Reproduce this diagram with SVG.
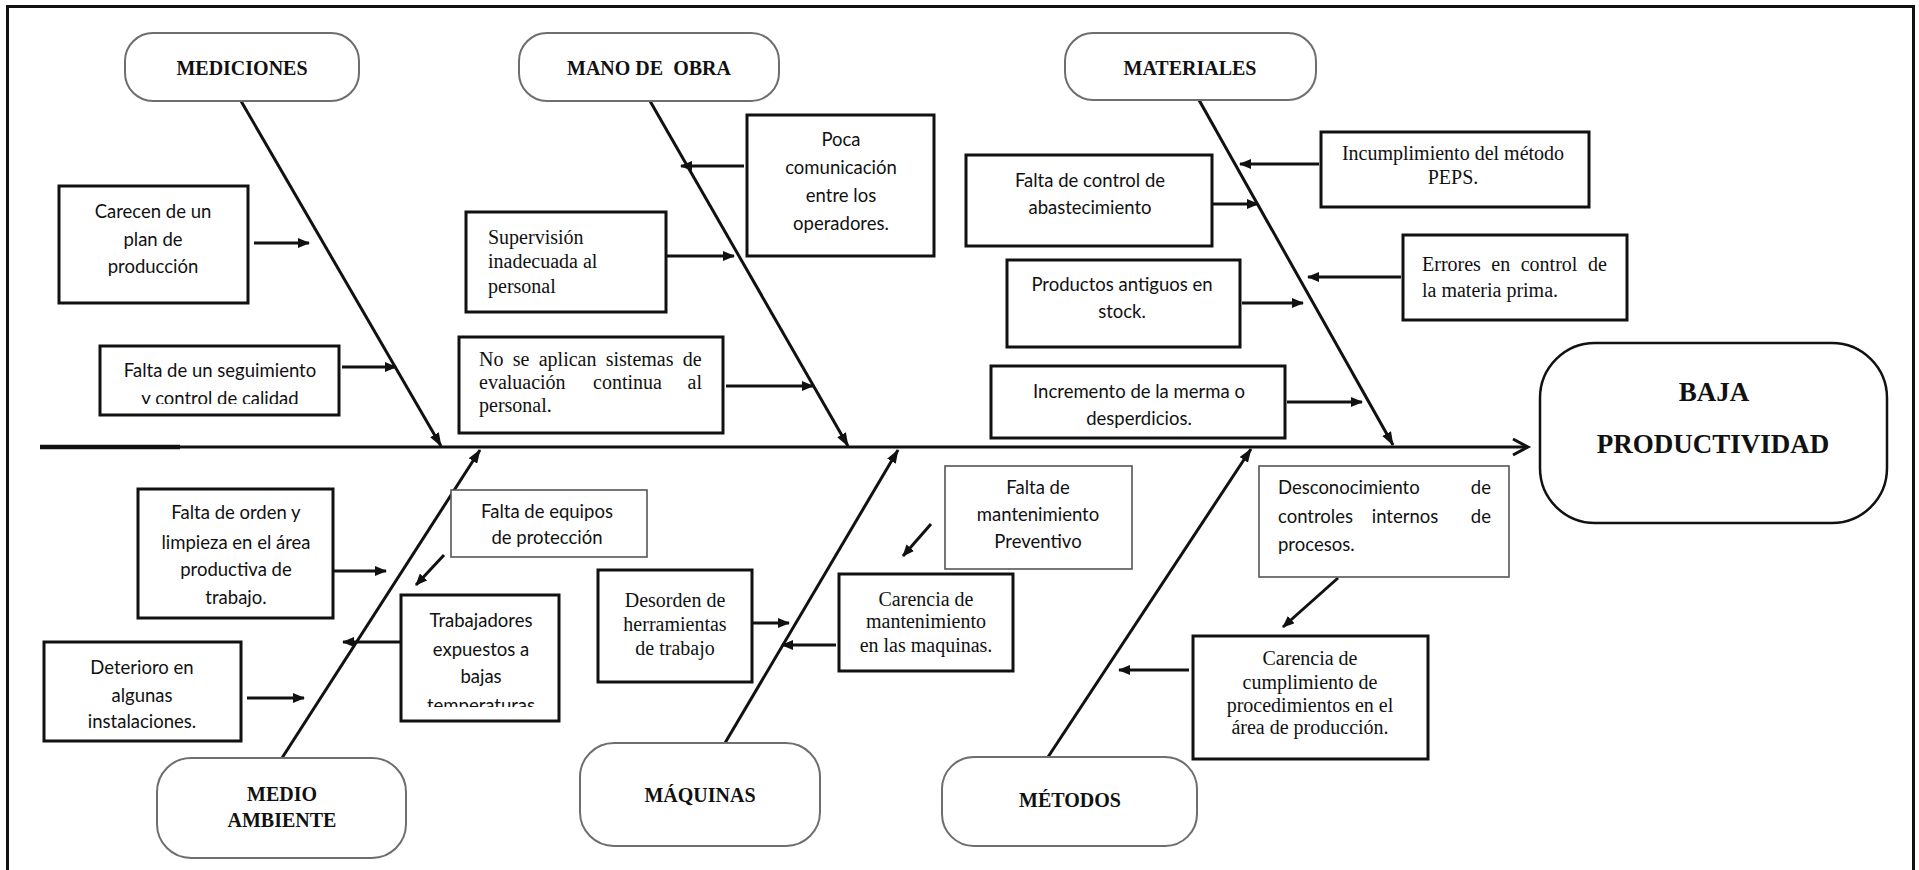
<svg xmlns="http://www.w3.org/2000/svg" width="1919" height="870" viewBox="0 0 1919 870">
  <style>
    .cat { fill: #fff; stroke: #6e6e6e; stroke-width: 2; }
    .box { fill: #fff; stroke: #111; stroke-width: 3; }
    .thin { fill: #fff; stroke: #555; stroke-width: 1.6; }
    .cap { font-family: "Liberation Serif", "Times New Roman", serif; font-weight: bold; font-size: 20px; fill: #111; text-anchor: middle; }
    .sans { font-family: Lato, "Noto Sans", sans-serif; font-size: 18.5px; fill: #111; }
    .serif { font-family: "Liberation Serif", "Times New Roman", serif; font-size: 20px; fill: #111; }
    .mid { text-anchor: middle; }
    .end { text-anchor: end; }
    .bone { stroke: #111; stroke-width: 3; fill: none; }
    .arr { stroke: #111; stroke-width: 3; fill: none; }
  </style>
  <defs>
    <marker id="head" viewBox="0 0 12 10" refX="11" refY="5" markerWidth="12" markerHeight="10" markerUnits="userSpaceOnUse" orient="auto">
      <path d="M0,0 L12,5 L0,10 z" fill="#111"/>
    </marker>
    <marker id="bonehead" viewBox="0 0 14 10" refX="13" refY="5" markerWidth="14" markerHeight="10" markerUnits="userSpaceOnUse" orient="auto">
      <path d="M0,0 L14,5 L0,10 z" fill="#111"/>
    </marker>
    <clipPath id="clipSeg"><rect x="100" y="346" width="239" height="58"/></clipPath>
    <clipPath id="clipTrab"><rect x="401" y="595" width="158" height="112"/></clipPath>
  </defs>

  <!-- frame -->
  <rect x="7.5" y="6.5" width="1906" height="880" fill="none" stroke="#111" stroke-width="3"/>

  <!-- spine, bones and arrows -->
  <g id="connectors">
    <line x1="40" y1="447" x2="1526" y2="447" stroke="#111" stroke-width="3"/>
    <line x1="40" y1="447" x2="180" y2="447" stroke="#111" stroke-width="4.5"/>
    <polyline points="1513,439 1528,447 1513,455" fill="none" stroke="#111" stroke-width="3"/>

    <line class="bone" x1="241" y1="101" x2="441" y2="446" marker-end="url(#bonehead)"/>
    <line class="bone" x1="650" y1="101" x2="848" y2="446" marker-end="url(#bonehead)"/>
    <line class="bone" x1="1199" y1="100" x2="1393" y2="445" marker-end="url(#bonehead)"/>
    <line class="bone" x1="282" y1="758" x2="480" y2="450" marker-end="url(#bonehead)"/>
    <line class="bone" x1="725" y1="743" x2="898" y2="450" marker-end="url(#bonehead)"/>
    <line class="bone" x1="1048" y1="757" x2="1251" y2="449" marker-end="url(#bonehead)"/>

    <line class="arr" x1="254" y1="243" x2="309" y2="243" marker-end="url(#head)"/>
    <line class="arr" x1="342" y1="367" x2="396" y2="367" marker-end="url(#head)"/>
    <line class="arr" x1="744" y1="166" x2="681" y2="166" marker-end="url(#head)"/>
    <line class="arr" x1="666" y1="256" x2="734" y2="256" marker-end="url(#head)"/>
    <line class="arr" x1="726" y1="386" x2="813" y2="386" marker-end="url(#head)"/>
    <line class="arr" x1="1213" y1="204" x2="1258" y2="204" marker-end="url(#head)"/>
    <line class="arr" x1="1319" y1="164" x2="1240" y2="164" marker-end="url(#head)"/>
    <line class="arr" x1="1242" y1="303" x2="1303" y2="303" marker-end="url(#head)"/>
    <line class="arr" x1="1401" y1="277" x2="1308" y2="277" marker-end="url(#head)"/>
    <line class="arr" x1="1287" y1="402" x2="1362" y2="402" marker-end="url(#head)"/>

    <line class="arr" x1="334" y1="571" x2="386" y2="571" marker-end="url(#head)"/>
    <line class="arr" x1="444" y1="555" x2="416" y2="585" marker-end="url(#head)"/>
    <line class="arr" x1="401" y1="642" x2="343" y2="642" marker-end="url(#head)"/>
    <line class="arr" x1="247" y1="698" x2="304" y2="698" marker-end="url(#head)"/>
    <line class="arr" x1="752" y1="623" x2="789" y2="623" marker-end="url(#head)"/>
    <line class="arr" x1="836" y1="645" x2="782" y2="645" marker-end="url(#head)"/>
    <line class="arr" x1="931" y1="524" x2="903" y2="556" marker-end="url(#head)"/>
    <line class="arr" x1="1189" y1="670" x2="1119" y2="670" marker-end="url(#head)"/>
    <line class="arr" x1="1338" y1="578" x2="1283" y2="627" marker-end="url(#head)"/>
  </g>

  <!-- effect -->
  <g id="baja-productividad">
    <rect x="1540" y="343" width="347" height="180" rx="55" fill="#fff" stroke="#111" stroke-width="2.5"/>
    <text class="cap" x="1714" y="401" style="font-size:27px">BAJA</text>
    <text class="cap" x="1713" y="453" style="font-size:27px">PRODUCTIVIDAD</text>
  </g>

  <!-- categories -->
  <g id="cat-mediciones">
    <rect class="cat" x="125" y="33" width="234" height="68" rx="28"/>
    <text class="cap" x="242" y="75">MEDICIONES</text>
  </g>
  <g id="cat-mano-de-obra">
    <rect class="cat" x="519" y="33" width="260" height="68" rx="28"/>
    <text class="cap" x="649" y="75" xml:space="preserve">MANO DE  OBRA</text>
  </g>
  <g id="cat-materiales">
    <rect class="cat" x="1065" y="33" width="251" height="67" rx="28"/>
    <text class="cap" x="1190" y="75">MATERIALES</text>
  </g>
  <g id="cat-medio-ambiente">
    <rect class="cat" x="157" y="758" width="249" height="100" rx="34"/>
    <text class="cap" x="282" y="801">MEDIO</text>
    <text class="cap" x="282" y="827">AMBIENTE</text>
  </g>
  <g id="cat-maquinas">
    <rect class="cat" x="580" y="743" width="240" height="103" rx="34"/>
    <text class="cap" x="700" y="802">MÁQUINAS</text>
  </g>
  <g id="cat-metodos">
    <rect class="cat" x="942" y="757" width="255" height="89" rx="32"/>
    <text class="cap" x="1070" y="807">MÉTODOS</text>
  </g>

  <!-- causes: mediciones -->
  <g id="c-plan-produccion">
    <rect class="box" x="59" y="186" width="189" height="117"/>
    <text class="sans mid" x="153" y="218">Carecen de un</text>
    <text class="sans mid" x="153" y="246">plan de</text>
    <text class="sans mid" x="153" y="273">producción</text>
  </g>
  <g id="c-seguimiento-calidad">
    <rect class="box" x="100" y="346" width="239" height="69"/>
    <g clip-path="url(#clipSeg)">
      <text class="sans mid" x="220" y="377">Falta de un seguimiento</text>
      <text class="sans mid" x="220" y="405">y control de calidad</text>
    </g>
  </g>

  <!-- causes: mano de obra -->
  <g id="c-poca-comunicacion">
    <rect class="box" x="747" y="115" width="187" height="141"/>
    <text class="sans mid" x="841" y="146">Poca</text>
    <text class="sans mid" x="841" y="174">comunicación</text>
    <text class="sans mid" x="841" y="202">entre los</text>
    <text class="sans mid" x="841" y="230">operadores.</text>
  </g>
  <g id="c-supervision">
    <rect class="box" x="466" y="212" width="200" height="100"/>
    <text class="serif" x="488" y="244">Supervisión</text>
    <text class="serif" x="488" y="268">inadecuada al</text>
    <text class="serif" x="488" y="293">personal</text>
  </g>
  <g id="c-evaluacion">
    <rect class="box" x="459" y="337" width="264" height="96"/>
    <text class="serif" x="479" y="366" word-spacing="4.3">No se aplican sistemas de</text>
    <text class="serif" x="479" y="389">evaluación</text>
    <text class="serif" x="593" y="389">continua</text>
    <text class="serif end" x="702" y="389">al</text>
    <text class="serif" x="479" y="412">personal.</text>
  </g>

  <!-- causes: materiales -->
  <g id="c-abastecimiento">
    <rect class="box" x="966" y="155" width="246" height="91"/>
    <text class="sans mid" x="1090" y="187">Falta de control de</text>
    <text class="sans mid" x="1090" y="214">abastecimiento</text>
  </g>
  <g id="c-peps">
    <rect class="box" x="1321" y="132" width="268" height="75"/>
    <text class="serif mid" x="1453" y="160">Incumplimiento del método</text>
    <text class="serif mid" x="1453" y="184">PEPS.</text>
  </g>
  <g id="c-productos-antiguos">
    <rect class="box" x="1007" y="260" width="233" height="87"/>
    <text class="sans mid" x="1122" y="291">Productos antiguos en</text>
    <text class="sans mid" x="1122" y="318">stock.</text>
  </g>
  <g id="c-materia-prima">
    <rect class="box" x="1403" y="235" width="224" height="85"/>
    <text class="serif" x="1422" y="271" word-spacing="5.5">Errores en control de</text>
    <text class="serif" x="1422" y="297">la materia prima.</text>
  </g>
  <g id="c-merma">
    <rect class="box" x="991" y="366" width="294" height="72"/>
    <text class="sans mid" x="1139" y="398">Incremento de la merma o</text>
    <text class="sans mid" x="1139" y="425">desperdicios.</text>
  </g>

  <!-- causes: medio ambiente -->
  <g id="c-orden-limpieza">
    <rect class="box" x="138" y="489" width="195" height="129"/>
    <text class="sans mid" x="236" y="519">Falta de orden y</text>
    <text class="sans mid" x="236" y="549">limpieza en el área</text>
    <text class="sans mid" x="236" y="576">productiva de</text>
    <text class="sans mid" x="236" y="604">trabajo.</text>
  </g>
  <g id="c-equipos-proteccion">
    <rect class="thin" x="451" y="490" width="196" height="67"/>
    <text class="sans mid" x="547" y="518">Falta de equipos</text>
    <text class="sans mid" x="547" y="544">de protección</text>
  </g>
  <g id="c-bajas-temperaturas">
    <rect class="box" x="401" y="595" width="158" height="126"/>
    <g clip-path="url(#clipTrab)">
      <text class="sans mid" x="481" y="627">Trabajadores</text>
      <text class="sans mid" x="481" y="656">expuestos a</text>
      <text class="sans mid" x="481" y="683">bajas</text>
      <text class="sans mid" x="481" y="712">temperaturas</text>
    </g>
  </g>
  <g id="c-deterioro">
    <rect class="box" x="44" y="642" width="197" height="99"/>
    <text class="sans mid" x="142" y="674">Deterioro en</text>
    <text class="sans mid" x="142" y="702">algunas</text>
    <text class="sans mid" x="142" y="728">instalaciones.</text>
  </g>

  <!-- causes: maquinas -->
  <g id="c-herramientas">
    <rect class="box" x="598" y="570" width="154" height="112"/>
    <text class="serif mid" x="675" y="607">Desorden de</text>
    <text class="serif mid" x="675" y="631">herramientas</text>
    <text class="serif mid" x="675" y="655">de trabajo</text>
  </g>
  <g id="c-mantenimiento-maquinas">
    <rect class="box" x="839" y="574" width="174" height="97"/>
    <text class="serif mid" x="926" y="606">Carencia de</text>
    <text class="serif mid" x="926" y="628">mantenimiento</text>
    <text class="serif mid" x="926" y="652">en las maquinas.</text>
  </g>
  <g id="c-mantenimiento-preventivo">
    <rect class="thin" x="945" y="466" width="187" height="103"/>
    <text class="sans mid" x="1038" y="494">Falta de</text>
    <text class="sans mid" x="1038" y="521">mantenimiento</text>
    <text class="sans mid" x="1038" y="548">Preventivo</text>
  </g>

  <!-- causes: metodos -->
  <g id="c-controles-internos">
    <rect class="thin" x="1259" y="466" width="250" height="111"/>
    <text class="sans" x="1278" y="494">Desconocimiento</text>
    <text class="sans end" x="1491" y="494">de</text>
    <text class="sans" x="1278" y="523">controles</text>
    <text class="sans mid" x="1405" y="523">internos</text>
    <text class="sans end" x="1491" y="523">de</text>
    <text class="sans" x="1278" y="551">procesos.</text>
  </g>
  <g id="c-procedimientos">
    <rect class="box" x="1193" y="636" width="235" height="123"/>
    <text class="serif mid" x="1310" y="665">Carencia de</text>
    <text class="serif mid" x="1310" y="689">cumplimiento de</text>
    <text class="serif mid" x="1310" y="712">procedimientos en el</text>
    <text class="serif mid" x="1310" y="734">área de producción.</text>
  </g>
</svg>
